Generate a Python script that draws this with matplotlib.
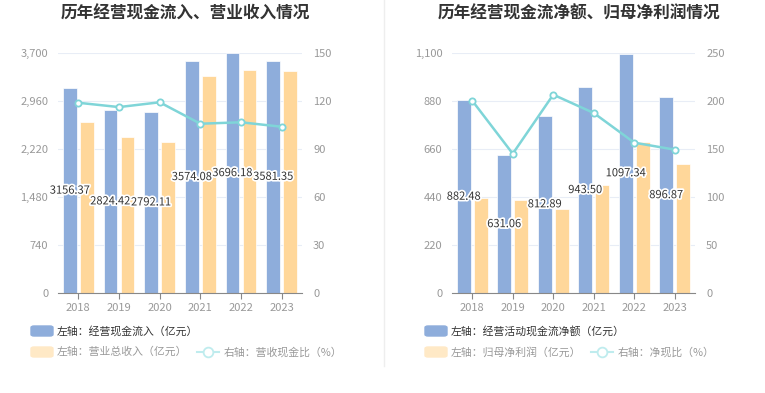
import matplotlib
matplotlib.use("Agg")
import matplotlib.pyplot as plt
import matplotlib.patheffects as pe
from matplotlib.patches import FancyBboxPatch
from matplotlib.lines import Line2D
import numpy as np

plt.rcParams['font.family'] = ['Noto Sans CJK SC', 'DejaVu Sans']

years = ['2018', '2019', '2020', '2021', '2022', '2023']

# left chart
cash_in = [3156.37, 2824.42, 2792.11, 3574.08, 3696.18, 3581.35]
revenue = [2632, 2405, 2324, 3346, 3438, 3423]
cash_ratio = [118.9, 116.2, 119.2, 105.8, 106.7, 103.9]

# right chart
net_cash = [882.48, 631.06, 812.89, 943.50, 1097.34, 896.87]
net_profit = [434, 426, 385, 496, 693, 591]
net_ratio = [200.3, 145.1, 206.6, 187.5, 156.6, 149.3]

BLUE = '#8eaddb'
ORANGE = '#ffd79a'
TEAL = '#7fd5d8'
GRID = '#e8edf6'
TICK = '#999999'

W, H = 765, 393
fig = plt.figure(figsize=(W / 100, H / 100), dpi=100)


def px(x0, x1, y0, y1):
    return [x0 / W, 1 - y1 / H, (x1 - x0) / W, (y1 - y0) / H]


def draw_panel(x0, x1, title, bars1, bars2, line, lmax, lticks, rmax, rticks,
               leg1, leg2, leg3):
    ax = fig.add_axes(px(x0, x1, 53, 293))
    x = np.arange(len(years))
    w = 0.34
    ax.bar(x - 0.21, bars1, w, color=BLUE, edgecolor='white', linewidth=0.5, zorder=2)
    ax.bar(x + 0.21, bars2, w, color=ORANGE, edgecolor='white', linewidth=0.5, zorder=2)
    for xi, v in zip(x, bars1):
        ax.text(xi - 0.21, v / 2, f'{v:.2f}', ha='center', va='center', fontsize=8,
                color='#333333', zorder=5,
                path_effects=[pe.withStroke(linewidth=2.5, foreground='white')])
    ax.set_xlim(-0.5, len(years) - 0.5)
    ax.set_ylim(0, lmax)
    ax.set_yticks(lticks)
    ax.set_yticklabels([f'{t:,}' for t in lticks])
    ax.set_xticks(x)
    ax.set_xticklabels(years)
    ax.grid(axis='y', color=GRID, linewidth=0.8, zorder=0)
    ax.set_axisbelow(True)
    for s in ['top', 'right', 'left']:
        ax.spines[s].set_visible(False)
    ax.spines['bottom'].set_color('#888888')
    ax.tick_params(axis='y', length=0, pad=7, labelsize=8, labelcolor=TICK)
    ax.tick_params(axis='x', length=4, color='#888888', pad=3, labelsize=8, labelcolor=TICK)

    ax2 = ax.twinx()
    ax2.plot(x, line, color=TEAL, linewidth=1.8, marker='o', markersize=4.5,
             markerfacecolor='white', markeredgecolor=TEAL, markeredgewidth=1.3, zorder=4)
    ax2.set_ylim(0, rmax)
    ax2.set_yticks(rticks)
    for s in ['top', 'right', 'left', 'bottom']:
        ax2.spines[s].set_visible(False)
    ax2.tick_params(axis='y', length=0, pad=8, labelsize=8, labelcolor=TICK)

    cx = (x0 + x1) / 2 + 5
    fig.text(cx / W, 1 - 14 / H, title, ha='center', va='center', fontsize=12,
             fontweight='bold', color='#333333')

    # legend
    lx = x0 - 27
    for (yy, col, txt, tcol) in [(331, BLUE, leg1, '#333333'), (352, '#ffe9c6', leg2, '#999999')]:
        fig.add_artist(FancyBboxPatch(((lx) / W, 1 - (yy + 5) / H), 22 / W, 10 / H,
                                      boxstyle='round,pad=0,rounding_size=0.004',
                                      transform=fig.transFigure, color=col))
        fig.text((lx + 26) / W, 1 - yy / H, txt, ha='left', va='center',
                 fontsize=7.8, color=tcol)
    ix = lx + 166
    fig.add_artist(Line2D([ix / W, (ix + 22) / W], [1 - 352 / H] * 2, color='#bfecee',
                          linewidth=1.5, transform=fig.transFigure))
    fig.add_artist(Line2D([(ix + 11) / W], [1 - 352 / H], marker='o', markersize=7,
                          markerfacecolor='white', markeredgecolor='#bfecee',
                          markeredgewidth=1.3, transform=fig.transFigure))
    fig.text((ix + 27) / W, 1 - 352 / H, leg3, ha='left', va='center',
             fontsize=7.8, color='#999999')
    return ax


draw_panel(58, 302, '历年经营现金流入、营业收入情况', cash_in, revenue, cash_ratio,
           3700, [0, 740, 1480, 2220, 2960, 3700], 150, [0, 30, 60, 90, 120, 150],
           '左轴：经营现金流入（亿元）', '左轴：营业总收入（亿元）', '右轴：营收现金比（%）')
draw_panel(452, 695, '历年经营现金流净额、归母净利润情况', net_cash, net_profit, net_ratio,
           1100, [0, 220, 440, 660, 880, 1100], 250, [0, 50, 100, 150, 200, 250],
           '左轴：经营活动现金流净额（亿元）', '左轴：归母净利润（亿元）', '右轴：净现比（%）')

fig.add_artist(Line2D([384 / W] * 2, [1, 1 - 366 / H], color='#eeeeee', linewidth=1,
                      transform=fig.transFigure))

fig.savefig('out.png', dpi=100, facecolor='white')
